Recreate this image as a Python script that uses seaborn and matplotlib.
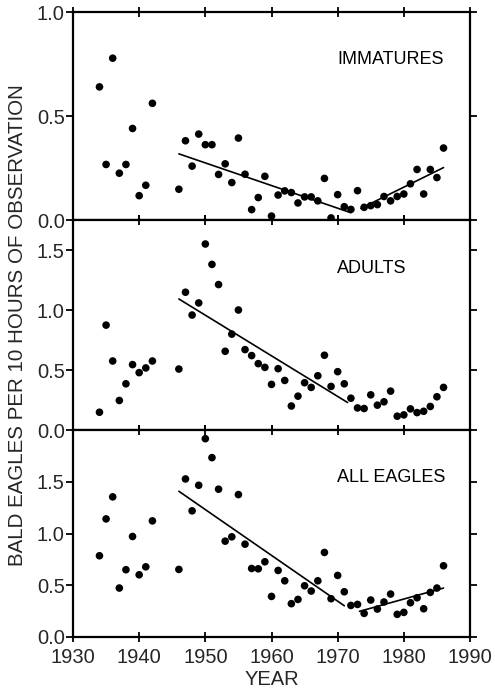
import numpy as np
import pandas as pd
import matplotlib
matplotlib.use("Agg")
import matplotlib.pyplot as plt
import seaborn as sns

years = [1934, 1935, 1936, 1937, 1938, 1939, 1940, 1941, 1942,
         1946, 1947, 1948, 1949, 1950, 1951, 1952, 1953, 1954, 1955,
         1956, 1957, 1958, 1959, 1960, 1961, 1962, 1963, 1964, 1965,
         1966, 1967, 1968, 1969, 1970, 1971, 1972, 1973, 1974, 1975,
         1976, 1977, 1978, 1979, 1980, 1981, 1982, 1983, 1984, 1985, 1986]

immatures = [0.64, 0.267, 0.778, 0.225, 0.267, 0.44, 0.117, 0.167, 0.561,
             0.148, 0.381, 0.259, 0.413, 0.362, 0.362, 0.219, 0.27, 0.18, 0.394,
             0.22, 0.05, 0.108, 0.21, 0.019, 0.12, 0.14, 0.132, 0.082, 0.111,
             0.111, 0.092, 0.2, 0.01, 0.122, 0.064, 0.051, 0.141, 0.061, 0.069,
             0.074, 0.113, 0.092, 0.113, 0.125, 0.174, 0.243, 0.125, 0.243, 0.204, 0.346]

adults = [0.148, 0.874, 0.575, 0.246, 0.385, 0.545, 0.478, 0.517, 0.575,
          0.508, 1.148, 0.958, 1.059, 1.55, 1.38, 1.212, 0.656, 0.799, 1.0,
          0.67, 0.62, 0.553, 0.522, 0.38, 0.511, 0.413, 0.2, 0.282, 0.394,
          0.355, 0.452, 0.623, 0.363, 0.486, 0.385, 0.265, 0.184, 0.179, 0.293,
          0.207, 0.235, 0.324, 0.115, 0.126, 0.176, 0.145, 0.156, 0.196, 0.277, 0.355]

all_eagles = [0.785, 1.141, 1.354, 0.473, 0.65, 0.971, 0.601, 0.678, 1.122,
              0.653, 1.527, 1.219, 1.466, 1.916, 1.733, 1.428, 0.926, 0.968, 1.376,
              0.897, 0.662, 0.659, 0.727, 0.392, 0.643, 0.543, 0.322, 0.363, 0.495,
              0.444, 0.543, 0.817, 0.37, 0.595, 0.437, 0.305, 0.315, 0.228, 0.357,
              0.27, 0.338, 0.415, 0.219, 0.238, 0.331, 0.379, 0.273, 0.431, 0.473, 0.688]

# trend line segments: ([x0, x1], [y0, y1])
imm_trends = [([1946, 1972], [0.318, 0.035]), ([1973.5, 1986], [0.056, 0.252])]
adu_trends = [([1946, 1971.5], [1.092, 0.229])]
all_trends = [([1946, 1971], [1.408, 0.302]), ([1973.3, 1986], [0.248, 0.473])]

labels = ["IMMATURES", "ADULTS", "ALL EAGLES"]
ylims = [1.0, 1.75, 2.0]
yticks = [[0.0, 0.5, 1.0], [0.0, 0.5, 1.0, 1.5], [0.0, 0.5, 1.0, 1.5]]
xticks = [1930, 1940, 1950, 1960, 1970, 1980, 1990]

sns.set_theme(style="white")
plt.rcParams['font.family'] = ['Liberation Sans', 'DejaVu Sans']

fig = plt.figure(figsize=(4.95, 6.96), dpi=100)
left, right = 73 / 495, 470 / 495
tops = [12, 220, 430]
bots = [220, 430, 637]

series = [immatures, adults, all_eagles]
trends = [imm_trends, adu_trends, all_trends]

for i in range(3):
    ax = fig.add_axes([left, 1 - bots[i] / 696, right - left, (bots[i] - tops[i]) / 696])
    df = pd.DataFrame({"year": years, "value": series[i]})
    sns.scatterplot(data=df, x="year", y="value", ax=ax, color="black",
                    s=30, edgecolor="none", clip_on=False, zorder=3)
    for xs, ys in trends[i]:
        sns.lineplot(x=xs, y=ys, ax=ax, color="black", linewidth=1.2)
    ax.set_xlim(1930, 1990)
    ax.set_ylim(0, ylims[i])
    ax.set_yticks(yticks[i])
    ax.set_yticklabels([f"{v:.1f}" for v in yticks[i]], fontsize=14.5)
    ax.set_xticks(xticks)
    ax.tick_params(axis="x", direction="inout", length=7, width=1.3, top=True, bottom=True, color="black", pad=4.5)
    ax.tick_params(axis="y", direction="out", length=5, width=1.3, left=True, right=True, color="black", pad=1)
    for sp in ax.spines.values():
        sp.set_linewidth(1.6)
        sp.set_color("black")
    ax.set_ylabel("")
    ax.set_xlabel("")
    if i < 2:
        ax.set_xticklabels([])
    else:
        ax.set_xticklabels([str(t) for t in xticks], fontsize=14.5)
        ax.set_xlabel("YEAR", fontsize=14.5, labelpad=2)
    ax.text(0.665, 0.77, labels[i], transform=ax.transAxes, fontsize=13,
            ha="left", va="center", color="black")
    ax.set_facecolor("white")

fig.text(18 / 495, 1 - 325 / 696, "BALD EAGLES PER 10 HOURS OF OBSERVATION",
         rotation=90, ha="center", va="center", fontsize=14.8)

fig.savefig("out.png", dpi=100, facecolor="white")
